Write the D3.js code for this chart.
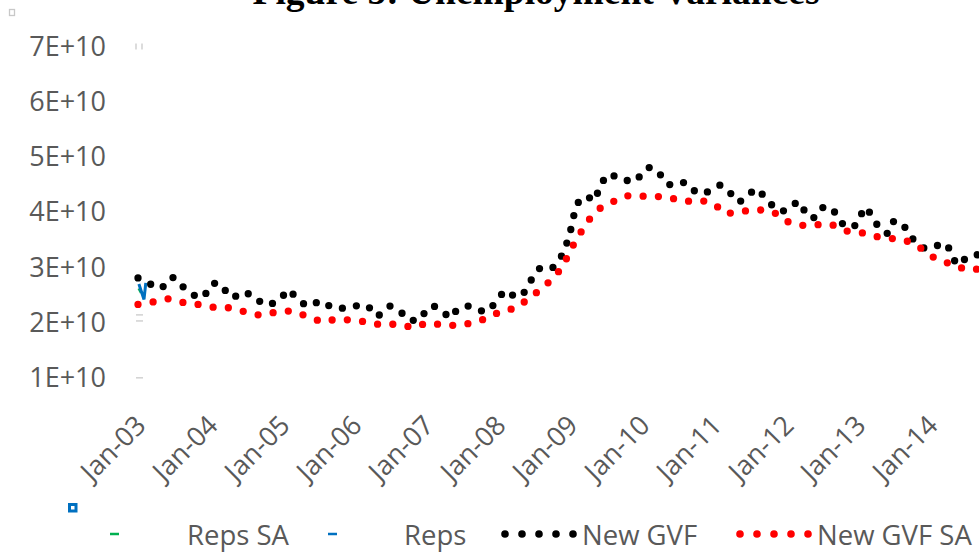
<!DOCTYPE html>
<html><head><meta charset="utf-8">
<script src="https://cdn.jsdelivr.net/npm/d3@7"></script>
<style>html,body{margin:0;padding:0;background:#fff;overflow:hidden}</style>
</head><body><svg id="c" width="979" height="557"></svg>
<script>
// ---- data (values in units of 1E+10) ----
const titleText = "Figure 5: Unemployment Variances";
const xTickMonths = [0, 12, 24, 36, 48, 60, 72, 84, 96, 108, 120, 132];
const xTickLabels = ["Jan-03","Jan-04","Jan-05","Jan-06","Jan-07","Jan-08","Jan-09","Jan-10","Jan-11","Jan-12","Jan-13","Jan-14"];
const yTickValues = [1, 2, 3, 4, 5, 6, 7];
const yTickLabels = ["1E+10","2E+10","3E+10","4E+10","5E+10","6E+10","7E+10"];
const legendLabels = ["Reps SA", "Reps", "New GVF", "New GVF SA"];

// monthly, starting Jan-03
const newGVF = [
  2.81, 2.76, 2.70, 2.65, 2.62, 2.79, 2.82, 2.70, 2.60, 2.51,
  2.47, 2.46, 2.68, 2.72, 2.68, 2.50, 2.45, 2.55, 2.53, 2.51,
  2.41, 2.32, 2.34, 2.36, 2.46, 2.60, 2.50, 2.39, 2.31, 2.31,
  2.38, 2.38, 2.29, 2.26, 2.26, 2.28, 2.30, 2.31, 2.32, 2.23,
  2.11, 2.24, 2.30, 2.26, 2.17, 2.05, 2.04, 2.05, 2.22, 2.31,
  2.27, 2.18, 2.08, 2.21, 2.29, 2.30, 2.27, 2.22, 2.19, 2.29,
  2.41, 2.58, 2.52, 2.47, 2.48, 2.67, 2.86, 2.99, 2.99, 2.98,
  3.10, 3.28, 3.62, 4.12, 4.27, 4.28, 4.20, 4.45, 4.67, 4.68,
  4.61, 4.58, 4.57, 4.56, 4.71, 4.81, 4.80, 4.69, 4.52, 4.49,
  4.50, 4.54, 4.49, 4.35, 4.35, 4.37, 4.44, 4.49, 4.44, 4.31,
  4.18, 4.23, 4.34, 4.43, 4.33, 4.22, 4.08, 4.02, 4.03, 4.11,
  4.20, 4.04, 3.89, 3.91, 4.08, 4.11, 4.02, 3.83, 3.74, 3.72,
  3.80, 4.09, 3.99, 3.80, 3.66, 3.61, 3.85, 3.80, 3.71, 3.53,
  3.43, 3.35, 3.35, 3.38, 3.45, 3.38, 3.13, 3.04, 3.18, 3.22,
  3.23, 3.24
];
const newGVFSA = [
  2.33, 2.35, 2.37, 2.38, 2.41, 2.43, 2.41, 2.38, 2.35, 2.34,
  2.33, 2.31, 2.29, 2.27, 2.27, 2.27, 2.25, 2.22, 2.19, 2.17,
  2.14, 2.14, 2.17, 2.19, 2.20, 2.21, 2.20, 2.16, 2.12, 2.08,
  2.04, 2.01, 2.04, 2.06, 2.06, 2.05, 2.04, 2.03, 2.01, 1.99,
  1.97, 1.96, 1.97, 1.97, 1.95, 1.93, 1.91, 1.95, 1.99, 1.99,
  1.97, 1.95, 1.95, 1.95, 1.97, 1.98, 2.00, 2.04, 2.07, 2.12,
  2.18, 2.22, 2.24, 2.26, 2.34, 2.43, 2.51, 2.59, 2.69, 2.78,
  2.91, 3.06, 3.30, 3.49, 3.67, 3.84, 3.97, 4.07, 4.12, 4.18,
  4.24, 4.29, 4.30, 4.29, 4.29, 4.29, 4.29, 4.28, 4.27, 4.25,
  4.23, 4.20, 4.20, 4.21, 4.21, 4.18, 4.15, 4.06, 3.97, 3.99,
  4.01, 4.02, 4.03, 4.04, 4.04, 4.03, 4.00, 3.91, 3.84, 3.80,
  3.77, 3.76, 3.77, 3.77, 3.78, 3.79, 3.76, 3.71, 3.66, 3.65,
  3.64, 3.62, 3.59, 3.56, 3.54, 3.53, 3.52, 3.51, 3.48, 3.45,
  3.39, 3.30, 3.22, 3.16, 3.11, 3.08, 3.06, 3.00, 2.96, 2.96,
  2.97, 2.97
];
// fragments of the Reps series visible at the start: [month, value]
const reps = [[0.15, 2.70], [1.0, 2.42], [1.3, 2.72]];
const repsSA = [[0.15, 2.62], [0.55, 2.54]];

// ---- drawing ----
const svg = d3.select("#c");
svg.append("rect").attr("width", 979).attr("height", 557).attr("fill", "#fff");

const x = d3.scaleLinear().domain([0, 144]).range([138, 1002]);
const y = d3.scaleLinear().domain([0, 7]).range([433, 46.6]);
const TXT = "#595959";
const FONT = "'Open Sans', sans-serif";

// title (cut off at top, as in the original)
svg.append("text").text(titleText)
  .attr("x", 536).attr("y", 4).attr("text-anchor", "middle")
  .attr("font-family", "'Liberation Serif', 'Times New Roman', serif")
  .attr("font-weight", "bold").attr("font-size", 37.5).attr("fill", "#000");

// small corner marker
svg.append("rect").attr("x", 9.5).attr("y", 9.5).attr("width", 5).attr("height", 6)
  .attr("fill", "#fff").attr("stroke", "#c8c8c8").attr("stroke-width", 1.3);

// y axis
const yAxis = svg.append("g").attr("transform", "translate(106,0)")
  .call(d3.axisLeft(y).tickValues(yTickValues).tickFormat((d, i) => yTickLabels[i]).tickSize(0).tickPadding(0));
yAxis.select(".domain").remove();
yAxis.selectAll("text").attr("font-family", FONT).attr("font-size", 27).attr("fill", TXT);

// x axis
const xAxis = svg.append("g").attr("transform", "translate(0,427)")
  .call(d3.axisBottom(x).tickValues(xTickMonths).tickFormat((d, i) => xTickLabels[i]).tickSize(0).tickPadding(0));
xAxis.select(".domain").remove();
xAxis.selectAll("text")
  .attr("font-family", FONT).attr("font-size", 27).attr("fill", TXT)
  .attr("y", 0).attr("dy", 0).attr("text-anchor", "end")
  .attr("transform", "translate(9,0) rotate(-45)");

// faint gray fragments near the left edge of the plot
const frag = svg.append("g").attr("stroke", "#d4d4d4").attr("stroke-width", 1.6);
[x(0) - 2, x(0) + 4].forEach(px => frag.append("line").attr("x1", px).attr("x2", px).attr("y1", y(7) - 3).attr("y2", y(7) + 3));
[2.14, 2.03, 1.0].forEach(v => frag.append("line").attr("x1", x(0) - 2).attr("x2", x(0) + 5).attr("y1", y(v)).attr("y2", y(v)));

// lines
const lineM = d3.line().x((d, i) => x(i)).y(d => y(d));
const lineP = d3.line().x(d => x(d[0])).y(d => y(d[1]));

svg.append("path").datum(repsSA).attr("d", lineP).attr("fill", "none")
  .attr("stroke", "#00B050").attr("stroke-width", 3);
svg.append("path").datum(reps).attr("d", lineP).attr("fill", "none")
  .attr("stroke", "#0070C0").attr("stroke-width", 3).attr("stroke-linejoin", "miter");

svg.append("path").datum(newGVF).attr("d", lineM).attr("fill", "none")
  .attr("stroke", "#000").attr("stroke-width", 7.3).attr("stroke-linecap", "round")
  .attr("stroke-dasharray", "0 14.2");
svg.append("path").datum(newGVFSA).attr("d", lineM).attr("fill", "none")
  .attr("stroke", "#FF0000").attr("stroke-width", 7.3).attr("stroke-linecap", "round")
  .attr("stroke-dasharray", "0 15.3");

// legend
const lg = svg.append("g");
lg.append("rect").attr("x", 69.5).attr("y", 504.5).attr("width", 6.5).attr("height", 6.5)
  .attr("fill", "#fff").attr("stroke", "#0070C0").attr("stroke-width", 3);
const LY = 534;
lg.append("line").attr("x1", 110).attr("x2", 119).attr("y1", LY).attr("y2", LY).attr("stroke", "#00B050").attr("stroke-width", 2.5);
lg.append("line").attr("x1", 328).attr("x2", 337).attr("y1", LY).attr("y2", LY).attr("stroke", "#0070C0").attr("stroke-width", 2.5);
lg.append("line").attr("x1", 505).attr("x2", 574).attr("y1", LY).attr("y2", LY).attr("stroke", "#000")
  .attr("stroke-width", 7.6).attr("stroke-linecap", "round").attr("stroke-dasharray", "0 17");
lg.append("line").attr("x1", 740).attr("x2", 809).attr("y1", LY).attr("y2", LY).attr("stroke", "#FF0000")
  .attr("stroke-width", 7.6).attr("stroke-linecap", "round").attr("stroke-dasharray", "0 17");
const lx = [187, 404, 582, 817];
legendLabels.forEach((t, i) => lg.append("text").text(t).attr("x", lx[i]).attr("y", 545)
  .attr("font-family", FONT).attr("font-size", 27.5).attr("fill", TXT));
</script></body></html>
